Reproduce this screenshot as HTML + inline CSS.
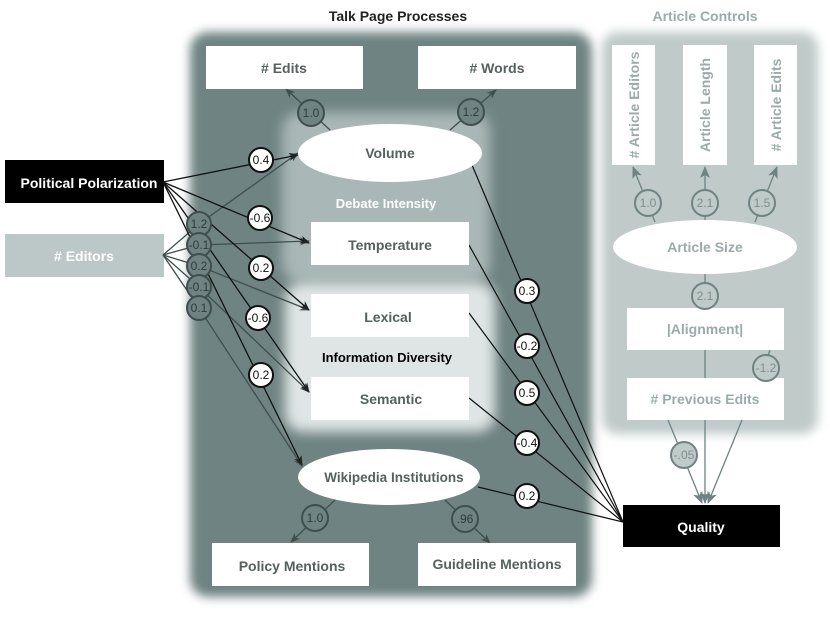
<!DOCTYPE html>
<html><head><meta charset="utf-8"><style>
body{margin:0;background:#fff;}
svg text{font-family:"Liberation Sans",sans-serif;font-weight:bold;}
</style></head><body>
<svg width="830" height="614" viewBox="0 0 830 614" xmlns="http://www.w3.org/2000/svg">
<defs>
<filter id="bl" x="-10%" y="-10%" width="120%" height="120%"><feGaussianBlur stdDeviation="5"/></filter>
<filter id="bl2" x="-10%" y="-10%" width="120%" height="120%"><feGaussianBlur stdDeviation="6"/></filter>
<marker id="ak" markerWidth="10" markerHeight="8" refX="9" refY="4" orient="auto" markerUnits="userSpaceOnUse"><path d="M0,0 L10,4 L0,8 L3,4z" fill="#222"/></marker>
<marker id="ag" markerWidth="10" markerHeight="8" refX="9" refY="4" orient="auto" markerUnits="userSpaceOnUse"><path d="M0,0 L10,4 L0,8 L3,4z" fill="#3e4f4e"/></marker>
<marker id="al" markerWidth="12" markerHeight="10" refX="11" refY="5" orient="auto" markerUnits="userSpaceOnUse"><path d="M0,0 L12,5 L0,10 L3,5z" fill="#6e8382"/></marker>
</defs>
<text x="398" y="21" font-size="14" fill="#222" text-anchor="middle">Talk Page Processes</text>
<text x="705" y="21" font-size="14" fill="#9aabaa" text-anchor="middle">Article Controls</text>
<rect x="190" y="32" width="402" height="565" rx="18" fill="#6e8382" filter="url(#bl)"/>
<rect x="602" y="32" width="216" height="402" rx="16" fill="#bfcac9" filter="url(#bl)"/>
<rect x="282" y="112" width="208" height="170" rx="18" fill="#a9b7b6" filter="url(#bl2)"/>
<rect x="285" y="282" width="210" height="150" rx="18" fill="#dfe5e4" filter="url(#bl2)"/>
<rect x="5" y="160" width="159" height="43" fill="#000"/>
<text x="89" y="188" font-size="14" fill="#fff" text-anchor="middle">Political Polarization</text>
<rect x="5" y="234" width="159" height="43" fill="#bcc8c7"/>
<text x="84" y="261" font-size="14" fill="#fff" text-anchor="middle"># Editors</text>
<g stroke="#3e4f4e" stroke-width="1.3" fill="none" marker-end="url(#ag)">
<path d="M163,255 L199,224 L298,153"/>
<path d="M163,255 L199,245 L309,241"/>
<path d="M163,255 L199,266 L309,310"/>
<path d="M163,255 L199,287 L309,392"/>
<path d="M163,255 L199,308 L302,466"/>
</g>
<g stroke="#111" stroke-width="1.3" fill="none" marker-end="url(#ak)">
<path d="M163,182 L298,155"/>
<path d="M163,182 L309,243"/>
<path d="M163,182 L309,310"/>
<path d="M163,182 L309,392"/>
<path d="M163,182 L302,465"/>
</g>
<g stroke="#111" stroke-width="1.2" fill="none">
<path d="M472,165 L623,522"/>
<path d="M469,245 L623,522"/>
<path d="M469,313 L623,522"/>
<path d="M469,398 L623,522"/>
<path d="M478,487 L623,522"/>
</g>
<g stroke="#3e4f4e" stroke-width="1.3" fill="none" marker-end="url(#ag)">
<path d="M330,130 L286,89"/>
<path d="M450,130 L496,90"/>
<path d="M335,500 L291,542"/>
<path d="M445,500 L490,543"/>
</g>
<g stroke="#6e8382" stroke-width="1.3" fill="none" marker-end="url(#al)">
<path d="M655,222 L633,167"/>
<path d="M705,222 L705,167"/>
<path d="M755,222 L777,167"/>
<path d="M668,420 L702,503"/>
<path d="M705,350 L705,503"/>
<path d="M742,420 L708,503"/>
<path d="M705,274 L705,308"/>
<path d="M770,350 L760,378"/>
</g>
<rect x="206" y="46" width="157" height="43" fill="#fff"/><text x="284" y="73" font-size="14" fill="#55615f" text-anchor="middle"># Edits</text>
<rect x="418" y="46" width="158" height="43" fill="#fff"/><text x="497" y="73" font-size="14" fill="#55615f" text-anchor="middle"># Words</text>
<ellipse cx="390" cy="153" rx="92" ry="29" fill="#fff"/><text x="390" y="158" font-size="14" fill="#55615f" text-anchor="middle">Volume</text>
<text x="386" y="208" font-size="13" fill="#fff" text-anchor="middle">Debate Intensity</text>
<rect x="311" y="222" width="158" height="43" fill="#fff"/><text x="390" y="250" font-size="14" fill="#55615f" text-anchor="middle">Temperature</text>
<rect x="311" y="294" width="158" height="43" fill="#fff"/><text x="388" y="322" font-size="14" fill="#55615f" text-anchor="middle">Lexical</text>
<text x="387" y="362" font-size="13" fill="#000" text-anchor="middle">Information Diversity</text>
<rect x="311" y="377" width="158" height="43" fill="#fff"/><text x="391" y="404" font-size="14" fill="#55615f" text-anchor="middle">Semantic</text>
<ellipse cx="389" cy="477" rx="91" ry="28" fill="#fff"/><text x="394" y="482" font-size="13.5" fill="#55615f" text-anchor="middle">Wikipedia Institutions</text>
<rect x="212" y="543" width="157" height="43" fill="#fff"/><text x="292" y="571" font-size="14" fill="#55615f" text-anchor="middle">Policy Mentions</text>
<rect x="418" y="543" width="158" height="43" fill="#fff"/><text x="497" y="569" font-size="14" fill="#55615f" text-anchor="middle">Guideline Mentions</text>
<rect x="623" y="505" width="157" height="42" fill="#000"/><text x="701" y="532" font-size="14" fill="#fff" text-anchor="middle">Quality</text>
<rect x="612" y="45" width="43" height="120" fill="#fff"/><text transform="translate(639,105) rotate(-90)" font-size="14" fill="#9aabaa" text-anchor="middle"># Article Editors</text>
<rect x="683" y="45" width="44" height="120" fill="#fff"/><text transform="translate(710,105) rotate(-90)" font-size="14" fill="#9aabaa" text-anchor="middle">Article Length</text>
<rect x="754" y="45" width="43" height="120" fill="#fff"/><text transform="translate(781,105) rotate(-90)" font-size="14" fill="#9aabaa" text-anchor="middle"># Article Edits</text>
<ellipse cx="705" cy="247" rx="92" ry="27" fill="#fff"/><text x="705" y="252" font-size="14" fill="#9aabaa" text-anchor="middle">Article Size</text>
<rect x="627" y="308" width="157" height="42" fill="#fff"/><text x="705" y="334" font-size="14" fill="#9aabaa" text-anchor="middle">|Alignment|</text>
<rect x="627" y="378" width="157" height="42" fill="#fff"/><text x="705" y="404" font-size="14" fill="#9aabaa" text-anchor="middle"># Previous Edits</text>
<g font-size="12" text-anchor="middle">
<g fill="#fff" stroke="#111" stroke-width="2">
<circle cx="261" cy="160" r="12"/><circle cx="260" cy="218" r="12"/><circle cx="261" cy="268" r="12"/><circle cx="258" cy="318" r="12"/><circle cx="261" cy="375" r="12"/>
<circle cx="527" cy="291" r="12"/><circle cx="527" cy="346" r="12"/><circle cx="527" cy="393" r="12"/><circle cx="527" cy="443" r="12"/><circle cx="527" cy="496" r="12"/>
</g>
<g fill="#111">
<text x="261" y="164" style="font-weight:normal">0.4</text><text x="260" y="222" style="font-weight:normal">-0.6</text><text x="261" y="272" style="font-weight:normal">0.2</text><text x="258" y="322" style="font-weight:normal">-0.6</text><text x="261" y="379" style="font-weight:normal">0.2</text>
<text x="527" y="295" style="font-weight:normal">0.3</text><text x="527" y="350" style="font-weight:normal">-0.2</text><text x="527" y="397" style="font-weight:normal">0.5</text><text x="527" y="447" style="font-weight:normal">-0.4</text><text x="527" y="500" style="font-weight:normal">0.2</text>
</g>
<g fill="#6e8382" stroke="#3e4f4e" stroke-width="2">
<circle cx="199" cy="224" r="12"/><circle cx="199" cy="245" r="12"/><circle cx="199" cy="266" r="12"/><circle cx="199" cy="287" r="12"/><circle cx="199" cy="308" r="12"/>
<circle cx="311" cy="113" r="13"/><circle cx="471" cy="112" r="13"/><circle cx="315" cy="518" r="13"/><circle cx="465" cy="519" r="13"/>
</g>
<g fill="#2f3d3c">
<text x="199" y="228" style="font-weight:normal">1.2</text><text x="199" y="249" style="font-weight:normal">-0.1</text><text x="199" y="270" style="font-weight:normal">0.2</text><text x="199" y="291" style="font-weight:normal">-0.1</text><text x="199" y="312" style="font-weight:normal">0.1</text>
<text x="311" y="117" style="font-weight:normal">1.0</text><text x="471" y="116" style="font-weight:normal">1.2</text><text x="315" y="522" style="font-weight:normal">1.0</text><text x="465" y="523" style="font-weight:normal">.96</text>
</g>
<g fill="#bfcac9" stroke="#6e8382" stroke-width="2">
<circle cx="648" cy="203" r="13"/><circle cx="705" cy="203" r="13"/><circle cx="762" cy="203" r="13"/><circle cx="705" cy="296" r="13"/><circle cx="766" cy="368" r="13"/><circle cx="684" cy="455" r="13"/>
</g>
<g fill="#7d8f8e">
<text x="648" y="207" style="font-weight:normal">1.0</text><text x="705" y="207" style="font-weight:normal">2.1</text><text x="762" y="207" style="font-weight:normal">1.5</text><text x="705" y="300" style="font-weight:normal">2.1</text><text x="766" y="372" style="font-weight:normal">-1.2</text><text x="684" y="459" style="font-weight:normal">-.05</text>
</g>
</g>
</svg>
</body></html>
